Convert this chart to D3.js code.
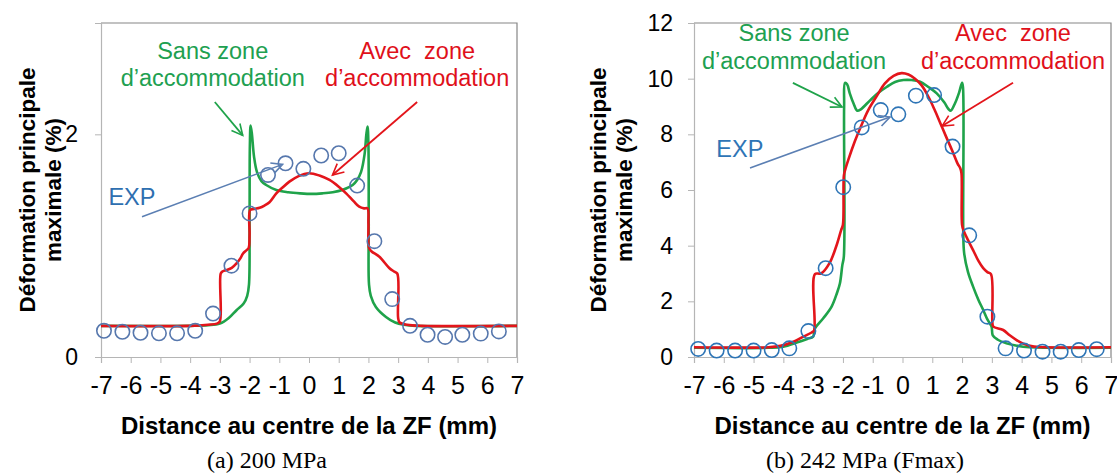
<!DOCTYPE html>
<html><head><meta charset="utf-8">
<script src="https://cdn.jsdelivr.net/npm/d3@7"></script>
<style>body{margin:0;background:#fff}svg{display:block}</style>
</head><body>
<svg id="c" width="1117" height="475"></svg>
<script>
// ---------- data ----------
const xTicks = [-7,-6,-5,-4,-3,-2,-1,0,1,2,3,4,5,6,7];
const yTicksA = [0,2];
const yTicksB = [0,2,4,6,8,10,12];

// (a) 200 MPa
const expXA = [-6.9,-6.28,-5.67,-5.05,-4.44,-3.83,-3.23,-2.61,-2.0,-1.38,-0.79,-0.19,0.41,1.0,1.62,2.2,2.8,3.4,3.99,4.58,5.16,5.78,6.39];
const expYA = [0.236,0.227,0.218,0.213,0.213,0.236,0.39,0.82,1.29,1.635,1.74,1.69,1.81,1.83,1.54,1.04,0.52,0.28,0.2,0.18,0.2,0.21,0.23];
const sansXA = [-7,-4,-3.4,-3.0,-2.7,-2.44,-2.2,-2.08,-2.02,-2.0,-1.99,-1.965,-1.92,-1.85,-1.75,-1.6,-1.44,-1.1,-0.7,-0.3,0.1,0.45,0.8,1.12,1.47,1.62,1.75,1.87,1.93,1.97,2.0,2.01,2.02,2.08,2.25,2.59,2.9,3.2,3.6,7];
const sansYA = [0.28,0.28,0.285,0.30,0.35,0.42,0.48,0.55,0.65,1.2,1.9,2.08,2.0,1.8,1.66,1.58,1.545,1.50,1.48,1.47,1.465,1.47,1.48,1.50,1.545,1.59,1.66,1.82,2.0,2.07,1.9,1.2,0.65,0.55,0.45,0.36,0.31,0.29,0.28,0.28];
const avecXA = [-7,-4,-3.4,-3.1,-3.0,-2.97,-2.9,-2.78,-2.6,-2.44,-2.3,-2.22,-2.1,-2.03,-2.0,-1.98,-1.85,-1.66,-1.5,-1.33,-1.1,-0.9,-0.66,-0.35,0,0.35,0.69,1.0,1.25,1.5,1.69,1.85,1.97,2.0,2.02,2.1,2.37,2.7,2.85,2.97,3.0,3.05,3.3,3.8,7];
const avecYA = [0.28,0.28,0.29,0.30,0.32,0.75,0.77,0.78,0.80,0.84,0.89,0.93,0.96,0.98,1.1,1.32,1.33,1.34,1.36,1.39,1.47,1.52,1.575,1.625,1.65,1.63,1.59,1.53,1.47,1.40,1.35,1.335,1.335,1.2,0.98,0.95,0.90,0.80,0.77,0.75,0.35,0.31,0.29,0.28,0.28];

// (b) 242 MPa (Fmax)
const expXB = [-6.86,-6.24,-5.62,-5.0,-4.39,-3.8,-3.16,-2.58,-1.99,-1.37,-0.73,-0.14,0.45,1.06,1.68,2.24,2.85,3.46,4.08,4.70,5.31,5.92,6.52];
const expYB = [0.29,0.23,0.23,0.23,0.25,0.31,0.93,3.19,6.1,8.25,8.87,8.72,9.39,9.41,7.56,4.37,1.45,0.31,0.23,0.19,0.19,0.25,0.28];
const sansXB = [-7,-4.5,-4.0,-3.55,-3.2,-3.0,-2.95,-2.66,-2.38,-2.2,-2.1,-2.02,-1.97,-1.96,-1.93,-1.86,-1.77,-1.64,-1.52,-1.4,-1.08,-0.8,-0.52,-0.25,0.03,0.3,0.59,0.87,1.15,1.4,1.55,1.62,1.76,1.9,2.0,2.03,2.04,2.07,2.2,2.37,2.55,2.71,2.85,2.99,3.03,3.2,3.49,3.8,4.05,4.5,7];
const sansYB = [0.33,0.33,0.37,0.52,0.65,0.73,1.0,1.39,1.81,2.3,2.65,3.3,3.6,9.0,9.85,9.8,9.47,9.1,8.85,8.9,9.23,9.5,9.71,9.88,9.95,9.95,9.89,9.7,9.47,9.15,8.9,8.85,9.11,9.5,9.85,9.7,4.5,3.73,3.05,2.53,2.05,1.69,1.35,1.09,0.78,0.62,0.49,0.41,0.37,0.34,0.33];
const avecXB = [-7,-4.5,-4.1,-3.66,-3.33,-3.05,-2.97,-2.94,-2.73,-2.45,-2.23,-2.06,-2.0,-1.97,-1.93,-1.82,-1.6,-1.35,-1.15,-0.85,-0.59,-0.3,-0.03,0.2,0.42,0.65,0.87,1.07,1.27,1.47,1.66,1.85,1.94,1.98,2.0,2.05,2.2,2.37,2.55,2.71,2.85,2.97,3.02,3.05,3.38,3.6,3.83,4.05,4.28,4.6,7];
const avecYB = [0.35,0.35,0.40,0.55,0.73,0.88,0.95,2.98,3.0,3.37,3.96,4.56,4.75,6.5,6.7,7.08,7.75,8.4,8.87,9.4,9.83,10.1,10.2,10.15,10.0,9.75,9.35,8.9,8.4,7.9,7.44,6.95,6.78,6.6,4.75,4.55,4.2,3.84,3.45,3.19,3.05,2.98,1.2,1.09,0.97,0.78,0.61,0.48,0.40,0.36,0.35];

const yTitle1 = "Déformation principale";
const yTitle2 = "maximale (%)";
const xTitle = "Distance au centre de la ZF (mm)";
const captions = ["(a) 200 MPa", "(b) 242 MPa (Fmax)"];
const sansLabel = ["Sans zone", "d’accommodation"];
const avecLabel = ["Avec  zone", "d’accommodation"];
const expLabel = "EXP";

// ---------- drawing ----------
const GREEN = "#1fa34a", RED = "#e3151b", GREEN_T = "#20a050", RED_T = "#e0101a";
const svg = d3.select("#c");
svg.append("rect").attr("width",1117).attr("height",475).attr("fill","#fff");
const defs = svg.append("defs");
function marker(id, color){
  defs.append("marker").attr("id",id).attr("viewBox","0 0 14 14").attr("refX",12).attr("refY",7)
    .attr("markerWidth",14).attr("markerHeight",14).attr("markerUnits","userSpaceOnUse").attr("orient","auto")
    .append("path").attr("d","M1,1.5 L12,7 L1,12.5").attr("fill","none").attr("stroke",color).attr("stroke-width",1.6);
}
marker("mg", GREEN); marker("mr", RED); marker("mb", "#5b7fb3");

function chart(cfg){
  const x = d3.scaleLinear().domain([-7,7]).range([cfg.left, cfg.right]);
  const y = d3.scaleLinear().domain([0, cfg.yMax]).range([357, 23]);
  const g = svg.append("g");
  // frame top/right
  g.append("path").attr("d",`M${x(-7)},${y(cfg.yMax)}H${x(7)}V${y(0)}`).attr("fill","none").attr("stroke","#868686").attr("stroke-width",1.2);
  // axes
  const xa = g.append("g").attr("transform",`translate(0,${y(0)})`)
    .call(d3.axisBottom(x).tickValues(xTicks).tickSize(6).tickFormat(d=>d));
  xa.select(".domain").attr("stroke","#b5b5b5").attr("stroke-width",1.2);
  xa.selectAll(".tick line").attr("stroke","#b5b5b5");
  xa.selectAll(".tick text").attr("font-family","Liberation Sans, Arial, sans-serif").attr("font-size",25).attr("fill","#000").attr("dy",null).attr("y",37);
  const ya = g.append("g").attr("transform",`translate(${x(-7)},0)`)
    .call(d3.axisLeft(y).tickValues(cfg.yTicks).tickSize(6).tickFormat(d=>d));
  ya.select(".domain").attr("stroke","#b5b5b5").attr("stroke-width",1.2);
  ya.selectAll(".tick line").attr("stroke","#b5b5b5");
  ya.selectAll(".tick text").attr("font-family","Liberation Sans, Arial, sans-serif").attr("font-size",23).attr("fill","#000").attr("x",-cfg.yLabGap);
  // lines
  const line = d3.line().x(d=>x(d[0])).y(d=>y(d[1])).curve(d3.curveCatmullRom.alpha(0.5));
  const pts = (xs,ys)=>xs.map((v,i)=>[v,ys[i]]);
  g.append("path").attr("d",line(pts(cfg.sansX,cfg.sansY))).attr("fill","none").attr("stroke",GREEN).attr("stroke-width",2.6).attr("stroke-linejoin","round");
  g.append("path").attr("d",line(pts(cfg.avecX,cfg.avecY))).attr("fill","none").attr("stroke",RED).attr("stroke-width",2.6).attr("stroke-linejoin","round");
  g.selectAll("circle.e").data(pts(cfg.expX,cfg.expY)).join("circle").attr("class","e")
    .attr("cx",d=>x(d[0])).attr("cy",d=>y(d[1])).attr("r",7.2).attr("fill","none").attr("stroke",cfg.expColor).attr("stroke-width",1.6);
  // annotations
  const a = cfg.ann;
  const txt = (s, xv, yv, color)=>g.append("text").attr("x",x(xv)).attr("y",y(yv)).attr("text-anchor","middle")
    .attr("font-family","Liberation Sans, Arial, sans-serif").attr("font-size",23.5).attr("fill",color).style("white-space","pre").text(s);
  txt(sansLabel[0], a.sansT[0], a.sansT[1], GREEN_T);
  txt(sansLabel[1], a.sansT[0], a.sansT[2], GREEN_T);
  txt(avecLabel[0], a.avecT[0], a.avecT[1], RED_T);
  txt(avecLabel[1], a.avecT[0], a.avecT[2], RED_T);
  txt(expLabel, a.expT[0], a.expT[1], cfg.expTextColor);
  const arrow = (p, color, id, w)=>g.append("line").attr("x1",x(p[0])).attr("y1",y(p[1])).attr("x2",x(p[2])).attr("y2",y(p[3]))
    .attr("stroke",color).attr("stroke-width",w).attr("marker-end",`url(#${id})`);
  arrow(a.sansA, GREEN, "mg", 1.8);
  arrow(a.avecA, RED, "mr", 1.8);
  arrow(a.expA, "#5b7fb3", "mb", 1.5);
  // titles
  const cx = (x(-7)+x(7))/2;
  g.append("text").attr("x",cx).attr("y",434).attr("text-anchor","middle").attr("font-family","Liberation Sans, Arial, sans-serif")
    .attr("font-weight","bold").attr("font-size",24).attr("fill","#000").text(xTitle);
  const yt = g.append("text").attr("transform",`translate(${cfg.yTitleX},190) rotate(-90)`).attr("text-anchor","middle")
    .attr("font-family","Liberation Sans, Arial, sans-serif").attr("font-weight","bold").attr("font-size",22.5).attr("fill","#000");
  yt.append("tspan").attr("x",0).attr("y",0).text(yTitle1);
  yt.append("tspan").attr("x",0).attr("y",25.5).text(yTitle2);
  g.append("text").attr("x",cfg.capX).attr("y",468).attr("text-anchor","middle").attr("font-family","Liberation Serif, Times New Roman, serif")
    .attr("font-size",24).attr("fill","#000").text(cfg.caption);
}

chart({left:101,right:517,yMax:3,yTicks:yTicksA,yLabGap:23,yTitleX:35,capX:267,caption:captions[0],
  expX:expXA,expY:expYA,sansX:sansXA,sansY:sansYA,avecX:avecXA,avecY:avecYA,expColor:"#5677ad",expTextColor:"#2e6fb0",
  ann:{sansT:[-3.24,2.68,2.43], avecT:[3.64,2.68,2.43], expT:[-5.96,1.365],
       sansA:[-3.17,2.29,-2.23,1.99], avecA:[3.64,2.29,0.79,1.635], expA:[-5.62,1.26,-0.89,1.73]}});
chart({left:694,right:1111,yMax:12,yTicks:yTicksB,yLabGap:21,yTitleX:606,capX:865,caption:captions[1],
  expX:expXB,expY:expYB,sansX:sansXB,sansY:sansYB,avecX:avecXB,avecY:avecYB,expColor:"#2e75b6",expTextColor:"#2e75b6",
  ann:{sansT:[-3.64,11.35,10.35], avecT:[3.71,11.35,10.35], expT:[-5.46,7.19],
       sansA:[-3.68,9.85,-2.03,8.98], avecA:[3.71,9.85,1.33,8.30], expA:[-5.12,6.79,-0.42,8.62]}});
</script>
</body></html>
